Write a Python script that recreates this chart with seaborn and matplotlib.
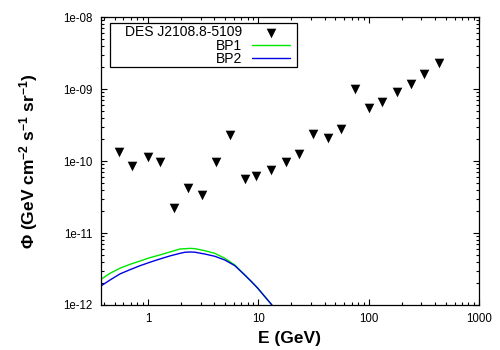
import matplotlib
matplotlib.use('Agg')
import matplotlib.pyplot as plt
import matplotlib.ticker as mticker
from matplotlib.patches import Rectangle
import seaborn as sns
import pandas as pd

# DES J2108.8-5109 upper limits
des_energy = [0.547, 0.716, 1.0, 1.28, 1.72, 2.30, 3.08, 4.12, 5.52, 7.55, 9.5, 13.0,
              17.7, 23.3, 31.1, 42.6, 55.8, 74.6, 100, 131, 179, 240, 315, 430]
des_flux = [1.33e-10, 8.5e-11, 1.14e-10, 9.7e-11, 2.2e-11, 4.2e-11, 3.4e-11, 9.7e-11,
            2.3e-10, 5.6e-11, 6.2e-11, 7.5e-11, 9.7e-11, 1.25e-10, 2.37e-10, 2.09e-10,
            2.78e-10, 1.0e-9, 5.45e-10, 6.6e-10, 9.1e-10, 1.17e-9, 1.6e-9, 2.3e-9]

# benchmark spectra
bp_energy = [0.376, 0.453, 0.558, 0.687, 0.847, 1.04, 1.28, 1.58, 1.95, 2.16, 2.40, 2.66,
             3.28, 4.04, 4.98, 6.13, 7.55, 8.68, 9.9, 11.5, 13.3]
bp1_flux = [2.28e-12, 2.75e-12, 3.24e-12, 3.67e-12, 4.08e-12, 4.54e-12, 4.95e-12, 5.45e-12,
            6.0e-12, 6.05e-12, 6.12e-12, 6.07e-12, 5.68e-12, 5.22e-12, 4.45e-12, 3.6e-12,
            2.61e-12, 2.11e-12, 1.71e-12, 1.30e-12, 1.0e-12]
bp2_flux = [1.84e-12, 2.22e-12, 2.70e-12, 3.09e-12, 3.51e-12, 3.92e-12, 4.35e-12, 4.80e-12,
            5.22e-12, 5.40e-12, 5.45e-12, 5.42e-12, 5.11e-12, 4.75e-12, 4.22e-12, 3.52e-12,
            2.61e-12, 2.11e-12, 1.71e-12, 1.30e-12, 1.0e-12]

x_ticks = [1, 10, 100, 1000]
y_ticks = [1e-12, 1e-11, 1e-10, 1e-9, 1e-8]
y_tick_labels = ['1e-12', '1e-11', '1e-10', '1e-09', '1e-08']

df_des = pd.DataFrame({'E': des_energy, 'flux': des_flux})
df_bp = pd.DataFrame({'E': bp_energy, 'BP1': bp1_flux, 'BP2': bp2_flux})

sns.set_style('ticks')
plt.rcParams['font.family'] = ['Liberation Sans', 'DejaVu Sans']
plt.rcParams['text.color'] = 'black'
plt.rcParams['axes.labelcolor'] = 'black'
plt.rcParams['mathtext.fontset'] = 'custom'
plt.rcParams['mathtext.rm'] = 'Liberation Sans:bold'
plt.rcParams['mathtext.bf'] = 'Liberation Sans:bold'
plt.rcParams['mathtext.it'] = 'Liberation Sans:bold'

fig = plt.figure(figsize=(5, 3.5), dpi=100)
ax = fig.add_axes([0.202, 0.1286, 0.756, 0.8224])
ax.set_xscale('log')
ax.set_yscale('log')

sns.scatterplot(data=df_des, x='E', y='flux', marker='v', color='black', s=48,
                linewidth=0, label='DES J2108.8-5109', ax=ax, zorder=3)
sns.lineplot(data=df_bp, x='E', y='BP1', color='#00e600', linewidth=1.0,
             label='BP1', ax=ax, sort=False)
sns.lineplot(data=df_bp, x='E', y='BP2', color='#0000e0', linewidth=1.0,
             label='BP2', ax=ax, sort=False)

ax.set_xlim(0.376, 1000)
ax.set_ylim(1e-12, 1e-8)

ax.xaxis.set_major_locator(mticker.FixedLocator(x_ticks))
ax.xaxis.set_major_formatter(mticker.FixedFormatter([str(t) for t in x_ticks]))
ax.xaxis.set_minor_locator(mticker.LogLocator(base=10, subs=range(2, 10), numticks=20))
ax.xaxis.set_minor_formatter(mticker.NullFormatter())
ax.yaxis.set_major_locator(mticker.FixedLocator(y_ticks))
ax.yaxis.set_major_formatter(mticker.FixedFormatter(y_tick_labels))
ax.yaxis.set_minor_locator(mticker.LogLocator(base=10, subs=range(2, 10), numticks=20))
ax.yaxis.set_minor_formatter(mticker.NullFormatter())

ax.tick_params(which='both', direction='in', top=True, right=True, labelsize=8.3,
               width=0.8, colors='black', pad=6)
ax.tick_params(which='major', length=4.5)
ax.tick_params(which='minor', length=2.5)
for sp in ax.spines.values():
    sp.set_linewidth(0.9)
    sp.set_color('black')

ax.set_xlabel('E (GeV)', fontsize=12.5, fontweight='bold', labelpad=4)
ax.set_ylabel(r'$\Phi$ (GeV cm$^{-2}$ s$^{-1}$ sr$^{-1}$)', fontsize=12.5,
              fontweight='bold', labelpad=17)

# gnuplot-style key: labels right-aligned, sample on the right
leg = ax.legend(loc='upper right', bbox_to_anchor=(0.5, 0.972), borderaxespad=0,
                markerfirst=False, fontsize=10, labelspacing=-0.05, handlelength=2.75,
                handletextpad=0.7, borderpad=0, frameon=False, labelcolor='black')

# key box with more room on the left, like gnuplot
fig.canvas.draw()
bb = leg.get_window_extent()
fig.patches.append(Rectangle((bb.x0 - 15, bb.y0 - 1), bb.width + 22, bb.height + 3,
                             transform=None, fill=False, edgecolor='black',
                             linewidth=0.9, zorder=5))

fig.savefig('out.png', dpi=100)
